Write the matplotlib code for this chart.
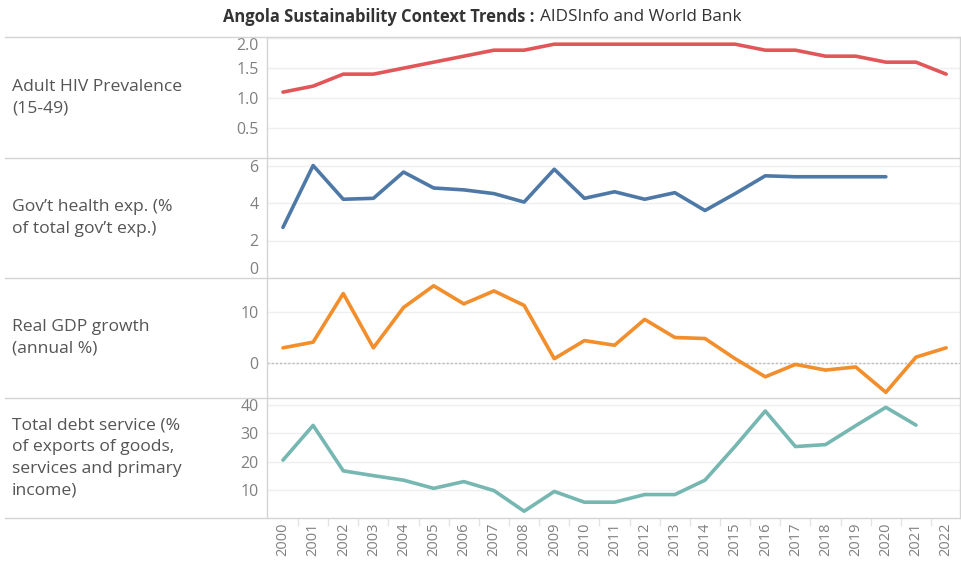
import matplotlib.pyplot as plt
import numpy as np
from matplotlib.lines import Line2D

# Data
years = list(range(2000, 2023))
hiv_prevalence = [1.1, 1.2, 1.4, 1.4, 1.5, 1.6, 1.7, 1.8, 1.8, 1.9, 1.9, 1.9,
                  1.9, 1.9, 1.9, 1.9, 1.8, 1.8, 1.7, 1.7, 1.6, 1.6, 1.4]
health_exp = [2.7, 6.0, 4.2, 4.25, 5.65, 4.8, 4.7, 4.5, 4.05, 5.8, 4.25, 4.6,
              4.2, 4.55, 3.6, 4.5, 5.45, 5.4, 5.4, 5.4, 5.4, np.nan, np.nan]
gdp_growth = [3.0, 4.1, 13.5, 3.0, 10.8, 15.0, 11.5, 14.0, 11.2, 0.9, 4.4, 3.5,
              8.5, 5.0, 4.8, 0.9, -2.6, -0.2, -1.3, -0.7, -5.6, 1.2, 3.0]
debt_service = [20.5, 32.8, 16.7, 15.0, 13.4, 10.5, 12.9, 9.7, 2.4, 9.4, 5.6, 5.6,
                8.3, 8.3, 13.4, 25.4, 37.9, 25.3, 26.0, 32.7, 39.2, 32.9, np.nan]

row_labels = ["Adult HIV Prevalence\n(15-49)",
              "Gov\u2019t health exp. (%\nof total gov\u2019t exp.)",
              "Real GDP growth\n(annual %)",
              "Total debt service (%\nof exports of goods,\nservices and primary\nincome)"]
series = [hiv_prevalence, health_exp, gdp_growth, debt_service]
colors = ['#E15759', '#4E79A7', '#F28E2B', '#76B7B2']
yticks = [[0.5, 1.0, 1.5, 2.0], [0, 2, 4, 6], [0, 10], [10, 20, 30, 40]]
ytick_fmt = ['{:.1f}', '{:.0f}', '{:.0f}', '{:.0f}']
ylims = [(0, 2.02), (0, 6.4), (-6.7, 16.5), (0, 42.5)]

plt.rcParams['font.family'] = ['Open Sans', 'DejaVu Sans']

W, H = 962, 564
fig = plt.figure(figsize=(W / 100, H / 100), dpi=100)
fig.patch.set_facecolor('white')

def fx(px):
    return px / W

def fy(py):
    return 1 - py / H

left_px, right_px = 267, 960
bounds = [37, 158, 278, 398, 518]
grid_col = '#efefef'
line_col = '#d4d4d4'
tick_col = '#808080'

axes = []
for i in range(4):
    top, bot = bounds[i], bounds[i + 1]
    ax = fig.add_axes([fx(left_px), fy(bot), fx(right_px) - fx(left_px), (bot - top) / H])
    ax.plot(years, series[i], color=colors[i], lw=2.6,
            solid_capstyle='round', solid_joinstyle='round', zorder=3)
    ax.set_xlim(1999.47, 2022.46)
    ax.set_ylim(*ylims[i])
    ax.set_yticks(yticks[i])
    ax.set_yticklabels([ytick_fmt[i].format(v) for v in yticks[i]])
    ax.tick_params(axis='y', length=0, pad=6, labelsize=11.5, labelcolor=tick_col)
    ax.grid(axis='y', color=grid_col, lw=1)
    ax.set_axisbelow(True)
    for s in ['top', 'bottom']:
        ax.spines[s].set_visible(False)
    for s in ['left', 'right']:
        ax.spines[s].set_color(line_col)
        ax.spines[s].set_linewidth(1)
    ax.set_xticks(years)
    if i < 3:
        ax.tick_params(axis='x', length=0, labelbottom=False)
    else:
        ax.set_xticklabels([str(y) for y in years], rotation=90)
        ax.tick_params(axis='x', length=0, pad=3, labelsize=10.5, labelcolor=tick_col)
        ax.set_xticks([y + 0.5 for y in years[:-1]], minor=True)
        ax.tick_params(axis='x', which='minor', length=6, color='#e4e4e4', width=1)
    axes.append(ax)

    # row label in the left column
    fig.text(fx(12), fy((top + bot) / 2), row_labels[i], ha='left', va='center',
             fontsize=12.6, color='#555555', linespacing=1.48)

# GDP zero reference line
axes[2].axhline(0, color='#bdbdbd', lw=1, ls=(0, (1.5, 1.5)), zorder=2)

# edge tick labels are kept inside their panes
top_lbl = axes[0].get_yticklabels()[-1]
top_lbl.set_va('top')
axes[1].get_yticklabels()[0].set_va('bottom')

# horizontal separators across the whole width
for b in bounds:
    fig.add_artist(Line2D([fx(5), fx(right_px)], [fy(b), fy(b)],
                          color=line_col, lw=1))

# title: bold part + regular part
fig.text(fx(535), fy(17), 'Angola Sustainability Context Trends :', ha='right',
         va='center', fontsize=11.9, fontweight='bold', color='#333333')
fig.text(fx(540), fy(17), 'AIDSInfo and World Bank', ha='left',
         va='center', fontsize=12.3, color='#333333')

fig.savefig('out.png', dpi=100, facecolor='white')
